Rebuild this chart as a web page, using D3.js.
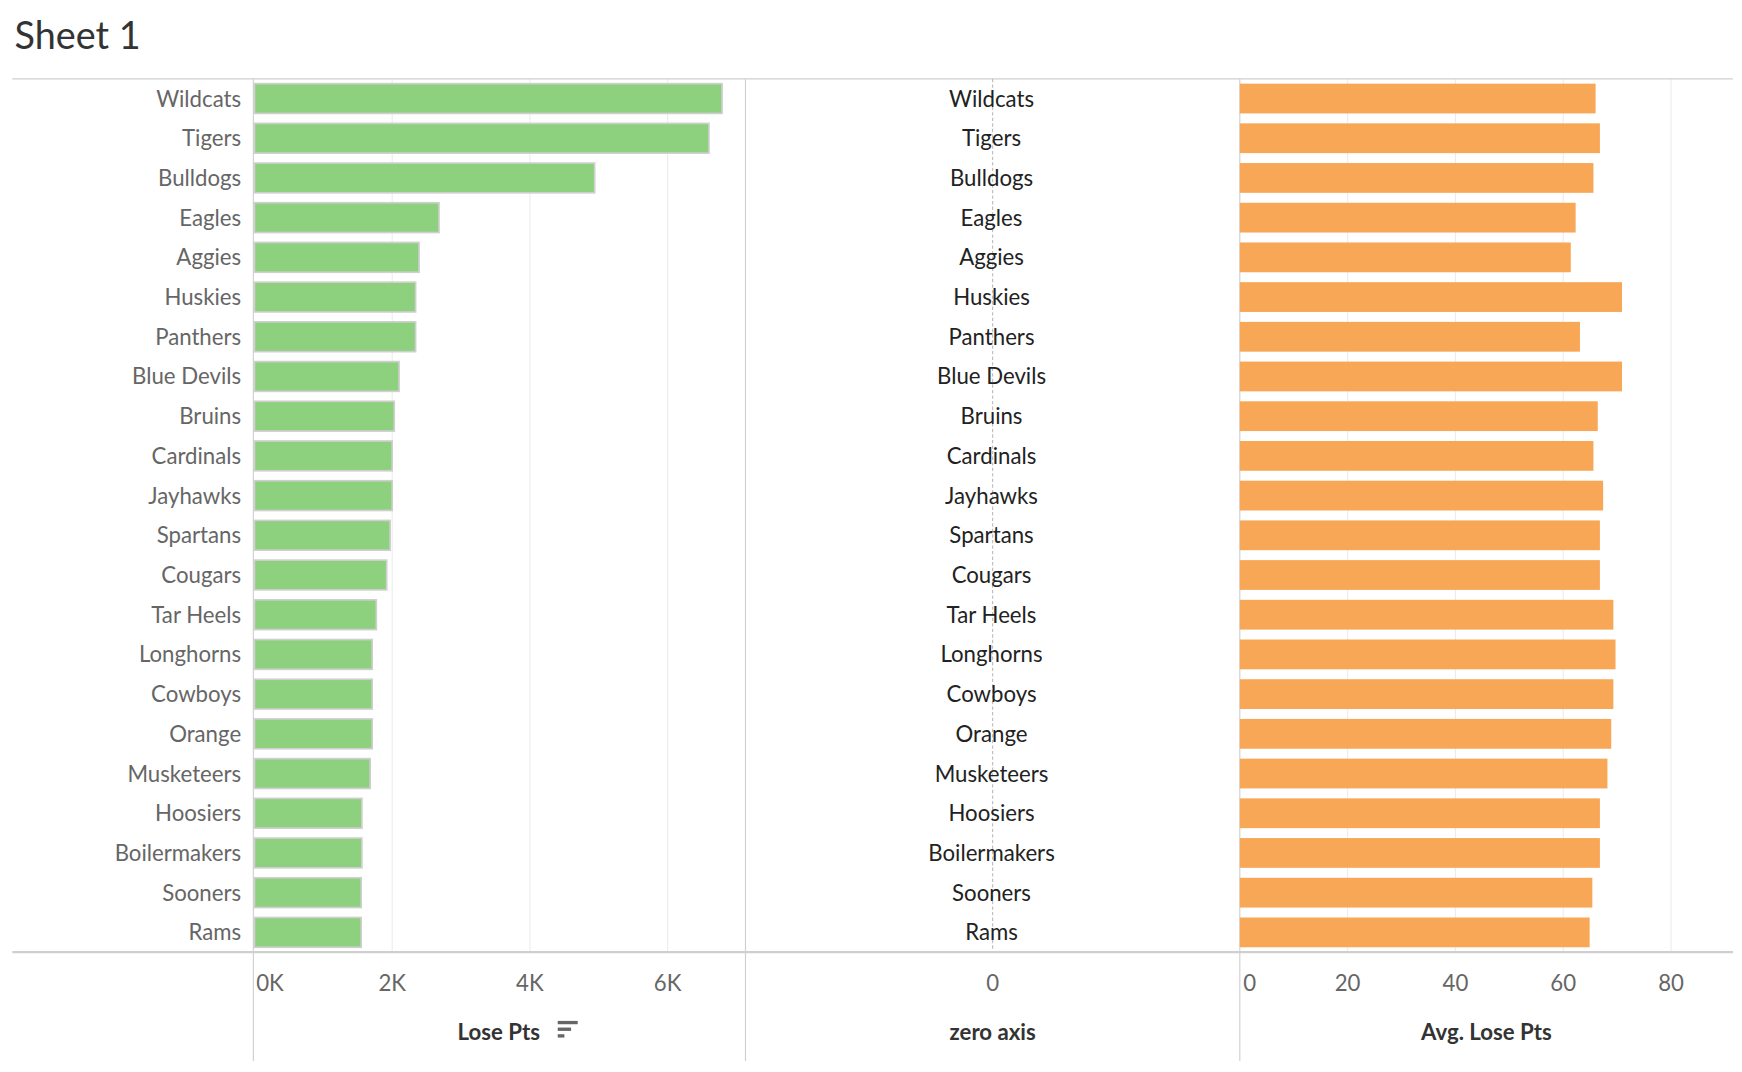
<!DOCTYPE html>
<html>
<head>
<meta charset="utf-8">
<script src="https://cdn.jsdelivr.net/npm/d3@7"></script>
<style>
  body { margin: 0; background: #fff; }
  text { font-family: Lato, "Open Sans", sans-serif; }
</style>
</head>
<body>
<svg id="chart"></svg>
<script>
const teams = ['Wildcats', 'Tigers', 'Bulldogs', 'Eagles', 'Aggies', 'Huskies', 'Panthers',
  'Blue Devils', 'Bruins', 'Cardinals', 'Jayhawks', 'Spartans', 'Cougars', 'Tar Heels',
  'Longhorns', 'Cowboys', 'Orange', 'Musketeers', 'Hoosiers', 'Boilermakers', 'Sooners', 'Rams'];
const losePts = [6790, 6600, 4940, 2680, 2390, 2340, 2340, 2100, 2030, 2000, 2000, 1970,
  1920, 1770, 1710, 1710, 1710, 1680, 1560, 1560, 1550, 1550];
const avgLosePts = [66.0, 66.8, 65.6, 62.3, 61.4, 70.9, 63.1, 70.9, 66.4, 65.6, 67.4, 66.8,
  66.8, 69.3, 69.7, 69.3, 68.9, 68.2, 66.8, 66.8, 65.4, 64.9];
const leftTicks = [0, 2000, 4000, 6000];
const rightTicks = [0, 20, 40, 60, 80];

const W = 1568, H = 965;
const svg = d3.select('#chart')
  .attr('width', 1742).attr('height', 1072)
  .attr('viewBox', `0 0 ${W} ${H}`);

const yTop = 71, yBottom = 857;
const p1 = [228, 671], p2 = [671, 1116], p3 = [1116, 1560];
const grey = '#cfcfcf';

svg.append('text').attr('x', 13).attr('y', 44)
  .attr('font-size', 34).attr('fill', '#333').text('Sheet 1');

const y = d3.scaleBand().domain(teams).range([yTop, yBottom]).paddingInner(0.25).paddingOuter(0.12);
const xl = d3.scaleLinear().domain([0, 7130]).range([p1[0] + 1, p1[1]]);
const xr = d3.scaleLinear().domain([0, 91.5]).range([p3[0], p3[1]]);

// gridlines
svg.append('g').selectAll('line').data(leftTicks.slice(1)).join('line')
  .attr('x1', d => xl(d)).attr('x2', d => xl(d)).attr('y1', yTop).attr('y2', yBottom)
  .attr('stroke', '#ececec');
svg.append('g').selectAll('line').data(rightTicks.slice(1)).join('line')
  .attr('x1', d => xr(d)).attr('x2', d => xr(d)).attr('y1', yTop).attr('y2', yBottom)
  .attr('stroke', '#ececec');

// panel borders
[p1[0], p2[0], p3[0]].forEach(x => {
  svg.append('line').attr('x1', x).attr('x2', x).attr('y1', yTop).attr('y2', 955)
    .attr('stroke', grey).attr('stroke-width', 1);
});
svg.append('line').attr('x1', 11).attr('x2', 1560).attr('y1', yTop).attr('y2', yTop).attr('stroke', grey);

// row labels
svg.append('g').selectAll('text').data(teams).join('text')
  .attr('x', 217).attr('y', d => y(d) + y.bandwidth() / 2)
  .attr('dy', '0.36em').attr('text-anchor', 'end')
  .attr('font-size', 20).attr('fill', '#666').text(d => d);

// left bars
svg.append('g').selectAll('rect').data(teams).join('rect')
  .attr('x', xl(0)).attr('y', d => y(d))
  .attr('width', (d, i) => xl(losePts[i]) - xl(0)).attr('height', y.bandwidth())
  .attr('fill', '#8dd17e').attr('stroke', '#cfcfcf').attr('stroke-width', 1.5);

// zero axis
const xz = d3.scaleLinear().domain([-1, 1]).range(p2);
svg.append('line').attr('x1', xz(0)).attr('x2', xz(0)).attr('y1', yTop).attr('y2', yBottom)
  .attr('stroke', '#bbb').attr('stroke-dasharray', '3,2');
svg.append('g').selectAll('text').data(teams).join('text')
  .attr('x', xz(0) - 1).attr('y', d => y(d) + y.bandwidth() / 2)
  .attr('dy', '0.36em').attr('text-anchor', 'middle')
  .attr('font-size', 20).attr('fill', '#222').text(d => d);

// right bars
svg.append('g').selectAll('rect').data(teams).join('rect')
  .attr('x', xr(0)).attr('y', d => y(d))
  .attr('width', (d, i) => xr(avgLosePts[i]) - xr(0)).attr('height', y.bandwidth())
  .attr('fill', '#f8a756');

svg.append('line').attr('x1', 11).attr('x2', 1560).attr('y1', yBottom).attr('y2', yBottom)
  .attr('stroke', grey).attr('stroke-width', 2);

// tick labels
const tickY = 892;
svg.append('g').selectAll('text').data(leftTicks).join('text')
  .attr('x', d => d === 0 ? xl(d) + 14 : xl(d)).attr('y', tickY).attr('text-anchor', 'middle')
  .attr('font-size', 20).attr('fill', '#666').text(d => d / 1000 + 'K');
svg.append('text').attr('x', xz(0)).attr('y', tickY).attr('text-anchor', 'middle')
  .attr('font-size', 20).attr('fill', '#666').text('0');
svg.append('g').selectAll('text').data(rightTicks).join('text')
  .attr('x', d => d === 0 ? xr(d) + 9 : xr(d)).attr('y', tickY).attr('text-anchor', 'middle')
  .attr('font-size', 20).attr('fill', '#666').text(d => d);

// axis titles
const titleY = 936;
svg.append('text').attr('x', 449).attr('y', titleY).attr('text-anchor', 'middle')
  .attr('font-size', 20).attr('font-weight', 'bold').attr('fill', '#333').text('Lose Pts');
const sort = svg.append('g').attr('fill', '#666');
[18, 12, 6].forEach((w, i) => {
  sort.append('rect').attr('x', 502).attr('y', 919 + i * 6).attr('width', w).attr('height', 3);
});
svg.append('text').attr('x', xz(0)).attr('y', titleY).attr('text-anchor', 'middle')
  .attr('font-size', 20).attr('font-weight', 'bold').attr('fill', '#333').text('zero axis');
svg.append('text').attr('x', 1338).attr('y', titleY).attr('text-anchor', 'middle')
  .attr('font-size', 20).attr('font-weight', 'bold').attr('fill', '#333').text('Avg. Lose Pts');
</script>
</body>
</html>
